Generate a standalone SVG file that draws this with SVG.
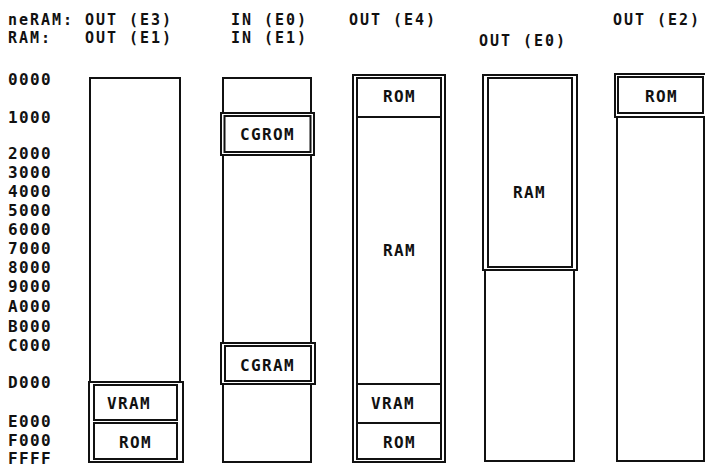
<svg xmlns="http://www.w3.org/2000/svg" width="705" height="468" viewBox="0 0 705 468">
<style>
text{font-family:"DejaVu Sans Mono","Liberation Mono",monospace;font-weight:bold;font-size:16px;letter-spacing:1.37px;fill:#111}
text.h{font-size:15px;letter-spacing:1.97px}
.b{fill:#fff;stroke:#111;stroke-width:2}
.l{stroke:#111;stroke-width:2;fill:none}
</style>
<rect width="705" height="468" fill="#fff"/>
<g id="headers">
<text class="h" x="8" y="25">neRAM:</text>
<text class="h" x="85" y="25">OUT (E3)</text>
<text class="h" x="231" y="25">IN (E0)</text>
<text class="h" x="349" y="25">OUT (E4)</text>
<text class="h" x="613" y="25">OUT (E2)</text>
<text class="h" x="8" y="43">RAM:</text>
<text class="h" x="85" y="43">OUT (E1)</text>
<text class="h" x="231" y="43">IN (E1)</text>
<text class="h" x="479" y="46">OUT (E0)</text>
</g>
<g id="addresses">
<text x="8" y="85">0000</text>
<text x="8" y="123">1000</text>
<text x="8" y="159">2000</text>
<text x="8" y="178">3000</text>
<text x="8" y="197">4000</text>
<text x="8" y="216">5000</text>
<text x="8" y="235">6000</text>
<text x="8" y="254">7000</text>
<text x="8" y="273">8000</text>
<text x="8" y="292">9000</text>
<text x="8" y="312">A000</text>
<text x="8" y="332">B000</text>
<text x="8" y="351">C000</text>
<text x="8" y="388">D000</text>
<text x="8" y="427">E000</text>
<text x="8" y="446">F000</text>
<text x="8" y="464">FFFF</text>
</g>
<g id="col1">
<rect class="b" x="90" y="78" width="90" height="383"/>
<rect class="b" x="89" y="382" width="94" height="80"/>
<rect class="b" x="94" y="385" width="83" height="35"/>
<rect class="b" x="94" y="423" width="83" height="36"/>
<text x="107" y="409">VRAM</text>
<text x="119" y="448">ROM</text>
</g>
<g id="col2">
<rect class="b" x="223" y="78" width="88" height="384"/>
<rect class="b" x="221" y="113" width="93" height="42"/>
<rect class="b" x="224.5" y="116" width="86" height="36"/>
<text x="240" y="140">CGROM</text>
<rect class="b" x="221" y="343" width="94" height="41"/>
<rect class="b" x="225" y="346" width="86" height="35"/>
<text x="240" y="371">CGRAM</text>
</g>
<g id="col3">
<rect class="b" x="353" y="75" width="92" height="387"/>
<rect class="b" x="357" y="78" width="84" height="381"/>
<line class="l" x1="357" y1="117" x2="441" y2="117"/>
<line class="l" x1="357" y1="384" x2="441" y2="384"/>
<line class="l" x1="357" y1="423" x2="441" y2="423"/>
<text x="383" y="102">ROM</text>
<text x="383" y="256">RAM</text>
<text x="371" y="409">VRAM</text>
<text x="383" y="448">ROM</text>
</g>
<g id="col4">
<rect class="b" x="485" y="78" width="89" height="383"/>
<rect class="b" x="483" y="75" width="94" height="195"/>
<rect class="b" x="488" y="78" width="84" height="189"/>
<text x="513" y="198">RAM</text>
</g>
<g id="col5">
<rect class="b" x="617" y="78" width="87" height="383"/>
<rect class="b" x="615" y="74" width="95" height="43"/>
<rect class="b" x="618" y="77" width="85" height="36"/>
<text x="645" y="102">ROM</text>
</g>
</svg>
